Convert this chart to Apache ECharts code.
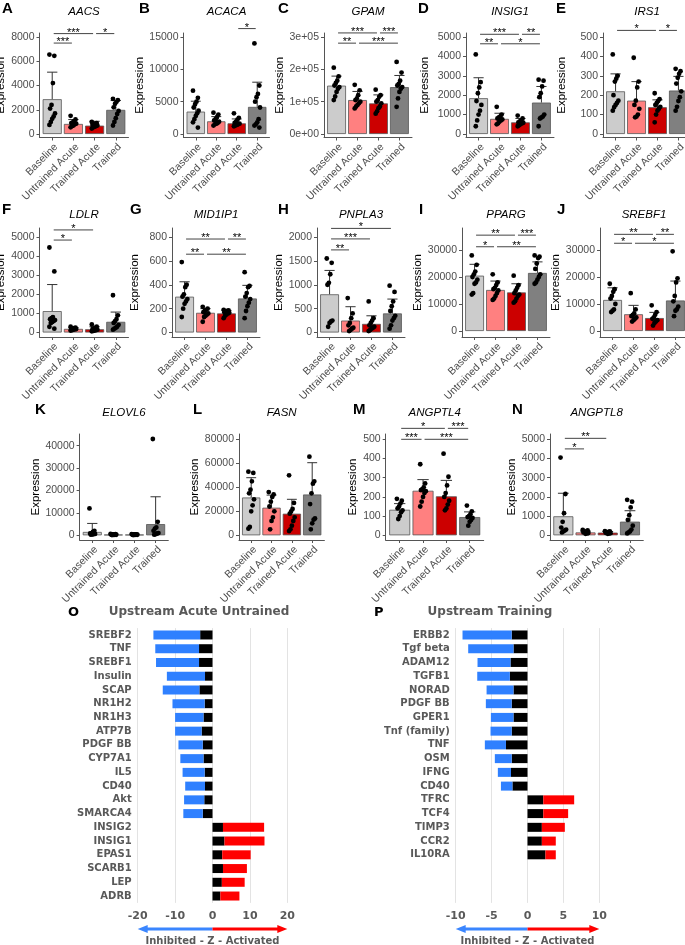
<!DOCTYPE html>
<html><head><meta charset="utf-8">
<script src="https://cdn.jsdelivr.net/npm/echarts@6/dist/echarts.min.js"></script>
<style>html,body{margin:0;padding:0;background:#fff}#c{width:685px;height:945px}</style>
</head><body><div id="c"></div>
<script>
const groups = ['Baseline', 'Untrained Acute', 'Trained Acute', 'Trained'];

// ---- A: AACS
const aacsMean = [2870, 830, 690, 1990];
const aacsSd = [2230, 360, 360, 770];
const aacsPts = [[6550, 6450, 4200, 2400, 2100, 1700, 1450, 1250, 1000, 750], [1500, 1200, 1050, 950, 900, 850, 800, 700, 650, 550], [1000, 900, 850, 800, 750, 700, 650, 600, 550, 450], [2900, 2800, 2650, 2500, 2200, 1900, 1650, 1300, 1000, 700]];
const aacsSig = [[0, 2, '***', 8280], [2, 3, '*', 8280], [0, 1, '***', 7500]];
const aacsTicks = [0, 2000, 4000, 6000, 8000];
// ---- B: ACACA
const acacaMean = [3460, 1960, 1650, 4190];
const acacaSd = [1610, 730, 680, 3820];
const acacaPts = [[6700, 5600, 5000, 4600, 4100, 3600, 3200, 2800, 2300, 1800, 1000], [3300, 3000, 2600, 2300, 2100, 1900, 1700, 1600, 1500, 1300], [3200, 2500, 2200, 1900, 1700, 1600, 1500, 1400, 1300, 1200], [14000, 7500, 6200, 5700, 5000, 4100, 2300, 1800, 1500, 1300, 1000]];
const acacaSig = [[2, 3, '*', 16300]];
const acacaTicks = [0, 5000, 10000, 15000];
// ---- C: GPAM
const gpamMean = [149500, 105000, 94700, 145000];
const gpamSd = [29500, 26600, 26300, 36000];
const gpamPts = [[205000, 178000, 165000, 158000, 150000, 145000, 140000, 130000, 116000, 105000], [152000, 135000, 120000, 110000, 105000, 100000, 95000, 90000, 85000, 79000], [137000, 120000, 115000, 105000, 100000, 95000, 85000, 80000, 70000, 63000], [223000, 190000, 165000, 155000, 150000, 145000, 140000, 130000, 110000, 84000]];
const gpamSig = [[0, 2, '***', 312600], [2, 3, '***', 312600], [0, 1, '**', 281000], [1, 3, '***', 281000]];
const gpamTicks = [0, 100000, 200000, 300000];
const gpamTickLabels = ['0e+00', '1e+05', '2e+05', '3e+05'];
// ---- D: INSIG1
const insig1Mean = [1845, 780, 600, 1620];
const insig1Sd = [1055, 290, 200, 830];
const insig1Pts = [[4100, 2670, 2400, 2100, 1700, 1500, 1200, 1000, 700, 400], [1400, 1000, 900, 850, 800, 750, 700, 650, 550, 500], [950, 800, 700, 650, 600, 580, 550, 500, 450, 400], [2800, 2750, 2450, 2100, 1900, 1000, 900, 850, 800, 400]];
const insig1Sig = [[0, 2, '***', 5140], [2, 3, '**', 5140], [0, 1, '**', 4650], [1, 3, '*', 4650]];
const insig1Ticks = [0, 1000, 2000, 3000, 4000, 5000];
// ---- E: IRS1
const irs1Mean = [220, 172, 138, 224];
const irs1Sd = [90, 98, 38, 73];
const irs1Pts = [[410, 300, 285, 270, 200, 172, 160, 150, 138, 120], [393, 270, 240, 172, 150, 130, 100, 90, 86], [210, 180, 170, 160, 150, 140, 130, 120, 100, 60], [336, 324, 310, 290, 260, 220, 190, 170, 140, 120]];
const irs1Sig = [[0, 2, '*', 534], [2, 3, '*', 534]];
const irs1Ticks = [0, 100, 200, 300, 400, 500];
// ---- F: LDLR
const ldlrMean = [1120, 190, 170, 560];
const ldlrSd = [1390, 70, 130, 510];
const ldlrPts = [[4450, 3200, 800, 750, 700, 650, 600, 550, 500, 300, 200], [300, 260, 230, 210, 190, 180, 170, 150, 120, 100], [420, 300, 250, 200, 170, 150, 120, 100, 80, 60], [1950, 900, 700, 600, 500, 400, 300, 250, 200, 150]];
const ldlrSig = [[0, 2, '*', 5370], [0, 1, '*', 4840]];
const ldlrTicks = [0, 1000, 2000, 3000, 4000, 5000];
// ---- G: MID1IP1
const mid1ip1Mean = [300, 165, 160, 285];
const mid1ip1Sd = [125, 35, 25, 110];
const mid1ip1Pts = [[590, 400, 380, 320, 300, 280, 260, 240, 200, 130], [215, 200, 190, 180, 170, 160, 150, 140, 130, 90], [190, 185, 180, 175, 170, 165, 160, 150, 140, 120], [505, 390, 380, 330, 300, 280, 250, 220, 180, 120]];
const mid1ip1Sig = [[0, 2, '**', 783], [2, 3, '**', 783], [0, 1, '**', 656], [1, 3, '**', 656]];
const mid1ip1Ticks = [0, 200, 400, 600, 800];
// ---- H: PNPLA3
const pnpla3Mean = [800, 250, 180, 400];
const pnpla3Sd = [500, 290, 170, 300];
const pnpla3Pts = [[1550, 1460, 1220, 1040, 1000, 250, 230, 200, 120], [720, 400, 300, 200, 150, 100, 80, 50, 30], [650, 300, 250, 200, 150, 120, 100, 80, 50, 30], [980, 850, 650, 550, 450, 350, 300, 250, 150, 80]];
const pnpla3Sig = [[0, 3, '*', 2180], [0, 2, '***', 1960], [0, 1, '**', 1730]];
const pnpla3Ticks = [0, 500, 1000, 1500, 2000];
// ---- I: PPARG
const ppargMean = [20500, 15200, 14300, 21500];
const ppargSd = [4200, 3300, 3200, 4100];
const ppargPts = [[28000, 24500, 22000, 21000, 20000, 19000, 18000, 17500, 14000, 13500], [21000, 18000, 17000, 16000, 15500, 15000, 14000, 13000, 12000, 11500], [20500, 17000, 16000, 15000, 14000, 13500, 13000, 12000, 11000, 10500], [28000, 27500, 27000, 25000, 23000, 21000, 20000, 19000, 18000, 17500]];
const ppargSig = [[0, 2, '**', 35500], [2, 3, '***', 35500], [0, 1, '*', 31200], [1, 3, '**', 31200]];
const ppargTicks = [0, 10000, 20000, 30000];
// ---- J: SREBF1
const srebf1Mean = [11500, 6200, 4800, 11300];
const srebf1Sd = [4500, 3300, 2100, 7200];
const srebf1Pts = [[17500, 15500, 14500, 13000, 12000, 10000, 8000, 7500, 7000], [14000, 8000, 6500, 6000, 5500, 5000, 4500, 4000, 3500], [9500, 7000, 6000, 5000, 4500, 4000, 3500, 3000, 2000], [29500, 19500, 18000, 13000, 11000, 9000, 8000, 7500, 5500]];
const srebf1Sig = [[0, 2, '**', 35800], [2, 3, '**', 35800], [0, 1, '*', 32500], [1, 3, '*', 32500]];
const srebf1Ticks = [0, 10000, 20000, 30000];
// ---- K: ELOVL6
const elovl6Mean = [1500, 300, 300, 5000];
const elovl6Sd = [3800, 300, 200, 12200];
const elovl6Pts = [[12000, 2000, 1500, 1000, 800, 600, 500, 400, 300], [600, 500, 400, 350, 300, 250, 200, 150, 100], [550, 450, 400, 350, 300, 250, 200, 150, 100], [43000, 6000, 3500, 3000, 2000, 1000, 800, 500, 300]];
const elovl6Sig = [];
const elovl6Ticks = [0, 10000, 20000, 30000, 40000];
// ---- L: FASN
const fasnMean = [31500, 23000, 18000, 34000];
const fasnSd = [16500, 10500, 12000, 26500];
const fasnPts = [[53000, 52000, 45000, 38000, 35000, 30000, 25000, 20000, 7000, 5500], [36000, 34000, 32000, 28000, 24000, 20000, 15000, 12000, 5000], [50000, 27000, 22000, 20000, 18000, 15000, 12000, 8000, 5000, 3500], [65500, 45000, 43000, 35000, 26000, 14000, 13000, 10000, 5000]];
const fasnSig = [];
const fasnTicks = [0, 20000, 40000, 60000, 80000];
// ---- M: ANGPTL4
const angptl4Mean = [133, 232, 203, 95];
const angptl4Sd = [32, 58, 83, 27];
const angptl4Pts = [[190, 180, 165, 150, 140, 130, 120, 100, 85], [370, 270, 250, 240, 235, 230, 220, 200, 175, 150], [425, 305, 260, 220, 200, 180, 160, 140, 130], [155, 125, 110, 100, 95, 90, 80, 70, 50]];
const angptl4Sig = [[0, 2, '*', 557], [2, 3, '***', 557], [0, 1, '***', 500], [1, 3, '***', 500]];
const angptl4Ticks = [0, 100, 200, 300, 400, 500];
// ---- N: ANGPTL8
const angptl8Mean = [990, 150, 140, 710];
const angptl8Sd = [1200, 70, 60, 570];
const angptl8Pts = [[4050, 2150, 1150, 700, 400, 300, 250, 200, 150], [280, 250, 200, 180, 150, 120, 100, 80], [220, 200, 180, 150, 130, 110, 100, 80], [1850, 1750, 1450, 1050, 800, 500, 300, 200, 150, 100]];
const angptl8Sig = [[0, 2, '**', 5050], [0, 1, '*', 4500]];
const angptl8Ticks = [0, 1000, 2000, 3000, 4000, 5000];

// ---- O: Upstream Acute Untrained
const oNames = ['SREBF2', 'TNF', 'SREBF1', 'Insulin', 'SCAP', 'NR1H2', 'NR1H3', 'ATP7B', 'PDGF BB', 'CYP7A1', 'IL5', 'CD40', 'Akt', 'SMARCA4', 'INSIG2', 'INSIG1', 'EPAS1', 'SCARB1', 'LEP', 'ADRB'];
const oZ = [-15.8, -15.3, -15.1, -12.2, -13.3, -10.7, -10.0, -10.0, -9.1, -8.6, -8.0, -7.3, -7.6, -7.8, 13.8, 13.9, 10.2, 9.2, 8.6, 7.2];
const oBlack = [3.3, 3.6, 3.6, 2.0, 3.5, 2.1, 2.4, 2.9, 2.6, 2.4, 2.1, 2.0, 2.2, 2.6, 2.8, 3.2, 2.6, 2.8, 2.5, 2.1];
const oTicks = [-20, -10, 0, 10, 20];
// ---- P: Upstream Training
const pNames = ['ERBB2', 'Tgf beta', 'ADAM12', 'TGFB1', 'NORAD', 'PDGF BB', 'GPER1', 'Tnf (family)', 'TNF', 'OSM', 'IFNG', 'CD40', 'TFRC', 'TCF4', 'TIMP3', 'CCR2', 'IL10RA'];
const pZ = [-9.05, -8.26, -6.96, -7.0, -5.7, -5.8, -5.1, -5.15, -5.94, -4.55, -4.13, -3.7, 6.5, 5.66, 5.2, 3.94, 3.94];
const pBlack = [2.2, 1.95, 2.37, 2.46, 1.95, 2.2, 1.95, 2.2, 3.0, 2.2, 2.3, 2.1, 2.2, 2.2, 2.0, 2.0, 2.5];
const pTicks = [-10, -5, 0, 5, 10];

// ================= layout & styles =================
const fills = ['#cccccc', '#ff8080', '#cc0000', '#808080'];
const panels = [
  { letter: 'A', gene: 'AACS', mean: aacsMean, sd: aacsSd, pts: aacsPts, sig: aacsSig, ticks: aacsTicks },
  { letter: 'B', gene: 'ACACA', mean: acacaMean, sd: acacaSd, pts: acacaPts, sig: acacaSig, ticks: acacaTicks },
  { letter: 'C', gene: 'GPAM', mean: gpamMean, sd: gpamSd, pts: gpamPts, sig: gpamSig, ticks: gpamTicks, labels: gpamTickLabels },
  { letter: 'D', gene: 'INSIG1', mean: insig1Mean, sd: insig1Sd, pts: insig1Pts, sig: insig1Sig, ticks: insig1Ticks },
  { letter: 'E', gene: 'IRS1', mean: irs1Mean, sd: irs1Sd, pts: irs1Pts, sig: irs1Sig, ticks: irs1Ticks },
  { letter: 'F', gene: 'LDLR', mean: ldlrMean, sd: ldlrSd, pts: ldlrPts, sig: ldlrSig, ticks: ldlrTicks },
  { letter: 'G', gene: 'MID1IP1', mean: mid1ip1Mean, sd: mid1ip1Sd, pts: mid1ip1Pts, sig: mid1ip1Sig, ticks: mid1ip1Ticks },
  { letter: 'H', gene: 'PNPLA3', mean: pnpla3Mean, sd: pnpla3Sd, pts: pnpla3Pts, sig: pnpla3Sig, ticks: pnpla3Ticks },
  { letter: 'I', gene: 'PPARG', mean: ppargMean, sd: ppargSd, pts: ppargPts, sig: ppargSig, ticks: ppargTicks },
  { letter: 'J', gene: 'SREBF1', mean: srebf1Mean, sd: srebf1Sd, pts: srebf1Pts, sig: srebf1Sig, ticks: srebf1Ticks },
  { letter: 'K', gene: 'ELOVL6', mean: elovl6Mean, sd: elovl6Sd, pts: elovl6Pts, sig: elovl6Sig, ticks: elovl6Ticks },
  { letter: 'L', gene: 'FASN', mean: fasnMean, sd: fasnSd, pts: fasnPts, sig: fasnSig, ticks: fasnTicks },
  { letter: 'M', gene: 'ANGPTL4', mean: angptl4Mean, sd: angptl4Sd, pts: angptl4Pts, sig: angptl4Sig, ticks: angptl4Ticks },
  { letter: 'N', gene: 'ANGPTL8', mean: angptl8Mean, sd: angptl8Sd, pts: angptl8Pts, sig: angptl8Sig, ticks: angptl8Ticks }
];
const R1 = { top: 33, bottom: 137.5, zero: 134, tickPx: 37, titleY: 12, ly: 2 };
const R2 = { top: 228, bottom: 337, zero: 332.5, tickPx: 237, titleY: 215, ly: 203 };
const R3 = { top: 434, bottom: 540, zero: 535.3, tickPx: 439.3, titleY: 413, ly: 403 };
const layout = [
  Object.assign({}, R1, { x: 39.5, w: 89, nameX: 5, lx: 2 }),
  Object.assign({}, R1, { x: 183.5, w: 86, nameX: 143, lx: 139 }),
  Object.assign({}, R1, { x: 324, w: 88, nameX: 285, lx: 278 }),
  Object.assign({}, R1, { x: 466, w: 88, nameX: 424.5, lx: 418 }),
  Object.assign({}, R1, { x: 603, w: 88, nameX: 562, lx: 556 }),
  Object.assign({}, R2, { x: 39.5, w: 89, nameX: 5, lx: 2 }),
  Object.assign({}, R2, { x: 172, w: 88, nameX: 135, lx: 130 }),
  Object.assign({}, R2, { x: 317, w: 88, nameX: 283, lx: 278 }),
  Object.assign({}, R2, { x: 462, w: 88, nameX: 422, lx: 419, zero: 331, tickPx: 250 }),
  Object.assign({}, R2, { x: 600, w: 88, nameX: 560, lx: 557, zero: 331, tickPx: 250 }),
  Object.assign({}, R3, { x: 79.6, w: 88.7, nameX: 40.5, lx: 35, tickPx: 445.7 }),
  Object.assign({}, R3, { x: 239, w: 85.4, nameX: 199, lx: 193 }),
  Object.assign({}, R3, { x: 385.7, w: 98, nameX: 357.5, lx: 353 }),
  Object.assign({}, R3, { x: 550, w: 93.3, nameX: 517.5, lx: 512 })
];

const FONT = "'Liberation Sans', Arial, Helvetica, sans-serif";
const VFONT = "'DejaVu Sans', Verdana, sans-serif";
const AX = '#555';

const grid = [], xAxis = [], yAxis = [], series = [], graphics = [];

panels.forEach((p, i) => {
  const L = layout[i];
  const top = p.ticks[p.ticks.length - 1];
  const ppu = (L.zero - L.tickPx) / top;
  const yMax = (L.zero - L.top) / ppu;
  const yMin = -(L.bottom - L.zero) / ppu;
  const bw = 0.9 * L.w / 4.2;
  grid.push({ left: L.x, top: L.top, width: L.w, height: L.bottom - L.top, containLabel: false, outerBoundsMode: 'none' });
  xAxis.push({
    type: 'value', gridIndex: i, min: -0.6, max: 3.6,
    axisLine: { show: true, onZero: false, lineStyle: { color: AX, width: 1 } },
    axisTick: { show: true, length: 3, customValues: [0, 1, 2, 3], lineStyle: { color: AX } },
    axisLabel: { customValues: [0, 1, 2, 3], formatter: v => groups[Math.round(v)], rotate: 45, align: 'right', verticalAlign: 'top', fontSize: 10.5, color: '#4d4d4d', fontFamily: FONT, margin: 4 },
    splitLine: { show: false }
  });
  yAxis.push({
    type: 'value', gridIndex: i, min: yMin, max: yMax,
    axisLine: { show: true, onZero: false, lineStyle: { color: AX, width: 1 } },
    axisTick: { show: true, length: 3, customValues: p.ticks, lineStyle: { color: AX } },
    axisLabel: { customValues: p.ticks, formatter: v => p.labels ? p.labels[p.ticks.indexOf(v)] : String(v), fontSize: 10.5, color: '#4d4d4d', fontFamily: FONT, margin: 5 },
    splitLine: { show: false },
    name: 'Expression', nameLocation: 'middle', nameGap: L.x - L.nameX - 6,
    nameTextStyle: { fontSize: 11.5, color: '#000', fontFamily: FONT }
  });
  series.push({
    type: 'bar', xAxisIndex: i, yAxisIndex: i, barWidth: bw, z: 2,
    data: p.mean.map((m, j) => ({ value: [j, m], itemStyle: { color: fills[j] } })),
    itemStyle: { borderColor: '#555', borderWidth: 0.8 }
  });
  series.push({
    type: 'custom', xAxisIndex: i, yAxisIndex: i, z: 3, clip: false,
    data: p.mean.map((m, j) => [j, m, m + p.sd[j]]),
    renderItem: (params, api) => {
      const a = api.coord([api.value(0), api.value(1)]);
      const b = api.coord([api.value(0), api.value(2)]);
      const hw = bw * 0.27;
      const st = { stroke: '#333', lineWidth: 1 };
      return { type: 'group', children: [
        { type: 'line', shape: { x1: a[0], y1: a[1], x2: b[0], y2: b[1] }, style: st },
        { type: 'line', shape: { x1: b[0] - hw, y1: b[1], x2: b[0] + hw, y2: b[1] }, style: st }
      ] };
    }
  });
  const flat = [];
  p.pts.forEach((arr, j) => arr.forEach((v, k) => flat.push([j, v, k])));
  series.push({
    type: 'custom', xAxisIndex: i, yAxisIndex: i, z: 4, clip: false,
    data: flat,
    renderItem: (params, api) => {
      const c = api.coord([api.value(0), api.value(1)]);
      const k = api.value(2);
      const off = (((k * 7) % 9) - 4) * 0.7;
      return { type: 'circle', shape: { cx: c[0] + off, cy: c[1], r: 2.4 }, style: { fill: '#000' } };
    }
  });
  if (p.sig.length) {
    series.push({
      type: 'custom', xAxisIndex: i, yAxisIndex: i, z: 5, clip: false,
      data: p.sig.map(s => [s[0], s[1], s[3]]),
      renderItem: (params, api) => {
        const a = api.coord([api.value(0), api.value(2)]);
        const b = api.coord([api.value(1), api.value(2)]);
        const txt = p.sig[params.dataIndex][2];
        return { type: 'group', children: [
          { type: 'line', shape: { x1: a[0] + 1.5, y1: a[1], x2: b[0] - 1.5, y2: b[1] }, style: { stroke: '#444', lineWidth: 1 } },
          { type: 'text', x: (a[0] + b[0]) / 2, y: a[1] - 1, style: { text: txt, align: 'center', verticalAlign: 'middle', textAlign: 'center', textVerticalAlign: 'middle', fontSize: 11, fontFamily: FONT, fill: '#000' } }
        ] };
      }
    });
  }
  graphics.push({ type: 'text', x: L.x + L.w / 2, y: L.titleY, style: { text: p.gene, align: 'center', verticalAlign: 'middle', textAlign: 'center', textVerticalAlign: 'middle', font: 'italic 11.5px ' + FONT, fill: '#000' } });
  graphics.push({ type: 'text', x: L.lx, y: L.ly - 1, style: { text: p.letter, align: 'left', verticalAlign: 'top', textAlign: 'left', textVerticalAlign: 'top', font: 'bold 15px ' + FONT, fill: '#000' } });
});

// ================= O & P =================
const hb = [
  { letter: 'O', title: 'Upstream Acute Untrained', names: oNames, z: oZ, black: oBlack, ticks: oTicks, left: 137.7, width: 149.6, lx: 68, titleX: 199 },
  { letter: 'P', title: 'Upstream Training', names: pNames, z: pZ, black: pBlack, ticks: pTicks, left: 455.7, width: 143.6, lx: 374, titleX: 490 }
];
const HB_TOP = 628.1, HB_H = 274.8, SLOTS = 20;
hb.forEach((h, q) => {
  const gi = panels.length + q;
  const cats = h.names.concat(Array(SLOTS - h.names.length).fill(''));
  grid.push({ left: h.left, top: HB_TOP, width: h.width, height: HB_H, containLabel: false, outerBoundsMode: 'none' });
  xAxis.push({
    type: 'value', gridIndex: gi, min: h.ticks[0], max: h.ticks[h.ticks.length - 1], interval: h.ticks[1] - h.ticks[0],
    axisLine: { show: false, onZero: false }, axisTick: { show: false },
    axisLabel: { fontSize: 11, fontWeight: 'bold', color: '#595959', fontFamily: VFONT, margin: 8 },
    splitLine: { show: true, lineStyle: { color: '#e3e3e3', width: 1 } }
  });
  yAxis.push({
    type: 'category', gridIndex: gi, data: cats, inverse: true, position: 'left',
    axisLine: { show: false, onZero: false }, axisTick: { show: false },
    axisLabel: { fontSize: 10, fontWeight: 'bold', color: '#595959', fontFamily: VFONT, margin: 6, interval: 0, align: 'right' }
  });
  const sgn = h.z.map(v => (v < 0 ? -1 : 1));
  series.push({
    type: 'bar', xAxisIndex: gi, yAxisIndex: gi, stack: 'z' + q, barWidth: 9,
    data: h.black.map((b, i) => sgn[i] * b), itemStyle: { color: '#000' }
  });
  series.push({
    type: 'bar', xAxisIndex: gi, yAxisIndex: gi, stack: 'z' + q, barWidth: 9,
    data: h.z.map((v, i) => ({ value: v - sgn[i] * h.black[i], itemStyle: { color: v < 0 ? '#2f80ff' : '#ff0000' } }))
  });
  graphics.push({ type: 'text', x: h.titleX, y: 612, style: { text: h.title, align: 'center', verticalAlign: 'middle', textAlign: 'center', textVerticalAlign: 'middle', font: 'bold 12px ' + VFONT, fill: '#595959' } });
  graphics.push({ type: 'text', x: h.lx, y: 606, style: { text: h.letter, align: 'left', verticalAlign: 'top', textAlign: 'left', textVerticalAlign: 'top', font: 'bold 13px ' + VFONT, fill: '#000' } });
  const x0 = h.left, x2 = h.left + h.width, xm = (x0 + x2) / 2, ay = 929, ah = 10, aw = 4;
  graphics.push({ type: 'line', shape: { x1: x0 + ah - 1, y1: ay, x2: xm, y2: ay }, style: { stroke: '#3a86ff', lineWidth: 3 } });
  graphics.push({ type: 'line', shape: { x1: xm, y1: ay, x2: x2 - ah + 1, y2: ay }, style: { stroke: '#ff0000', lineWidth: 3 } });
  graphics.push({ type: 'polygon', shape: { points: [[x0, ay], [x0 + ah, ay - aw], [x0 + ah, ay + aw]] }, style: { fill: '#3a86ff' } });
  graphics.push({ type: 'polygon', shape: { points: [[x2, ay], [x2 - ah, ay - aw], [x2 - ah, ay + aw]] }, style: { fill: '#ff0000' } });
  graphics.push({ type: 'text', x: xm, y: 941, style: { text: 'Inhibited - Z - Activated', align: 'center', verticalAlign: 'middle', textAlign: 'center', textVerticalAlign: 'middle', font: 'bold 10px ' + VFONT, fill: '#595959' } });
});

const chart = echarts.init(document.getElementById('c'), null, { renderer: 'canvas' });
chart.setOption({
  animation: false, backgroundColor: '#fff',
  grid, xAxis, yAxis, series,
  graphic: { elements: graphics }
});
</script></body></html>
